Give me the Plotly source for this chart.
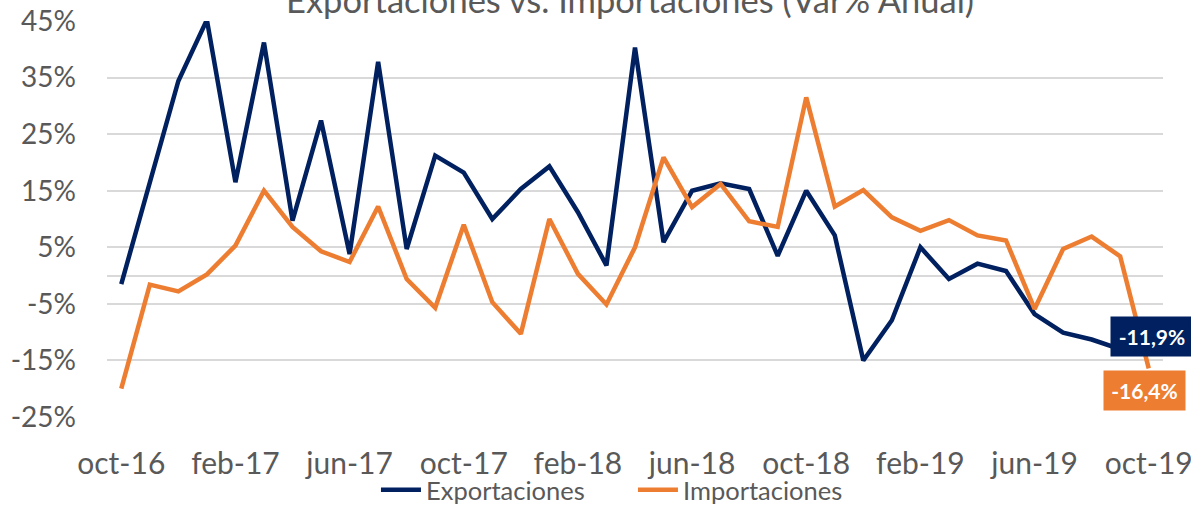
import plotly.graph_objects as go

months = ["oct-16", "nov-16", "dic-16", "ene-17", "feb-17", "mar-17", "abr-17", "may-17", "jun-17",
          "jul-17", "ago-17", "sep-17", "oct-17", "nov-17", "dic-17", "ene-18", "feb-18", "mar-18",
          "abr-18", "may-18", "jun-18", "jul-18", "ago-18", "sep-18", "oct-18", "nov-18", "dic-18",
          "ene-19", "feb-19", "mar-19", "abr-19", "may-19", "jun-19", "jul-19", "ago-19", "sep-19",
          "oct-19"]

exportaciones = [-1.5, 16.5, 34.4, 45.2, 16.5, 41.2, 9.7, 27.4, 3.8, 37.8, 4.7, 21.2, 18.2, 10.0,
                 15.3, 19.3, 11.2, 1.8, 40.3, 5.9, 15.0, 16.3, 15.3, 3.5, 15.0, 7.1, -15.0, -7.9,
                 5.0, -0.6, 2.1, 0.8, -6.8, -10.1, -11.3, -13.0, -11.9]

importaciones = [-20.0, -1.6, -2.8, 0.2, 5.3, 15.0, 8.6, 4.3, 2.4, 12.2, -0.6, -5.7, 9.0, -4.7,
                 -10.3, 10.0, 0.3, -5.1, 5.0, 20.9, 12.1, 16.2, 9.6, 8.6, 31.5, 12.2, 15.1, 10.3,
                 7.9, 9.8, 7.1, 6.2, -5.9, 4.7, 6.9, 3.4, -16.4]

x_ticks = ["oct-16", "feb-17", "jun-17", "oct-17", "feb-18", "jun-18", "oct-18", "feb-19",
           "jun-19", "oct-19"]
y_ticks = [-25, -15, -5, 5, 15, 25, 35, 45]

title_text = "Exportaciones vs. Importaciones (Var% Anual)"
label_exp = "-11,9%"
label_imp = "-16,4%"

NAVY = "#002060"
ORANGE = "#ED7D31"
GRAY = "#595959"
GRID = "#D9D9D9"
FONT = "Lato"

fig = go.Figure()
fig.add_trace(go.Scatter(x=months, y=exportaciones, mode="lines", name="Exportaciones",
                         line=dict(color=NAVY, width=4.5)))
fig.add_trace(go.Scatter(x=months, y=importaciones, mode="lines", name="Importaciones",
                         line=dict(color=ORANGE, width=4.5)))

fig.add_annotation(x=months[-1], y=exportaciones[-1], xref="x", yref="y", text="<b>%s</b>" % label_exp,
                   showarrow=False, bgcolor=NAVY, font=dict(family=FONT, size=21, color="white"),
                   width=80, height=37, yshift=6, xshift=3)
fig.add_annotation(x=months[-1], y=importaciones[-1], xref="x", yref="y", text="<b>%s</b>" % label_imp,
                   showarrow=False, bgcolor=ORANGE, font=dict(family=FONT, size=21, color="white"),
                   width=79, height=37, yshift=-22, xshift=-4)

fig.add_annotation(x=0.495, y=1.055, xref="paper", yref="paper", text=title_text, showarrow=False,
                   xanchor="center", yanchor="middle", font=dict(family=FONT, size=34.5, color=GRAY))

fig.update_layout(
    width=1191, height=505,
    margin=dict(l=107, r=28, t=21, b=88, autoexpand=False),
    paper_bgcolor="white", plot_bgcolor="white",
    font=dict(family=FONT, color=GRAY),
    showlegend=True,
    legend=dict(orientation="h", x=0.2547, y=-0.185, xanchor="left", yanchor="middle",
                font=dict(family=FONT, size=25.5, color=GRAY), bgcolor="rgba(0,0,0,0)",
                itemwidth=40, entrywidth=202, entrywidthmode="pixels"),
)
fig.update_xaxes(type="category", categoryorder="array", categoryarray=months,
                 tickmode="array", tickvals=x_ticks, ticktext=x_ticks,
                 showgrid=False, showline=False, ticks="", ticklabelstandoff=26,
                 automargin=False,
                 tickfont=dict(family=FONT, size=30, color=GRAY), range=[-0.5, 36.5])
fig.update_yaxes(range=[-25, 45], tickmode="array", tickvals=y_ticks,
                 ticktext=["%d%%" % v for v in y_ticks],
                 showgrid=True, gridcolor=GRID, gridwidth=1.5,
                 zeroline=True, zerolinecolor=GRID, zerolinewidth=1.5,
                 showline=False, ticks="", ticklabelstandoff=30, automargin=False,
                 tickfont=dict(family=FONT, size=28, color=GRAY))

fig.write_html("out.html", config={"displayModeBar": False},
               post_script="document.body.style.margin='0';document.body.style.overflow='hidden';")
